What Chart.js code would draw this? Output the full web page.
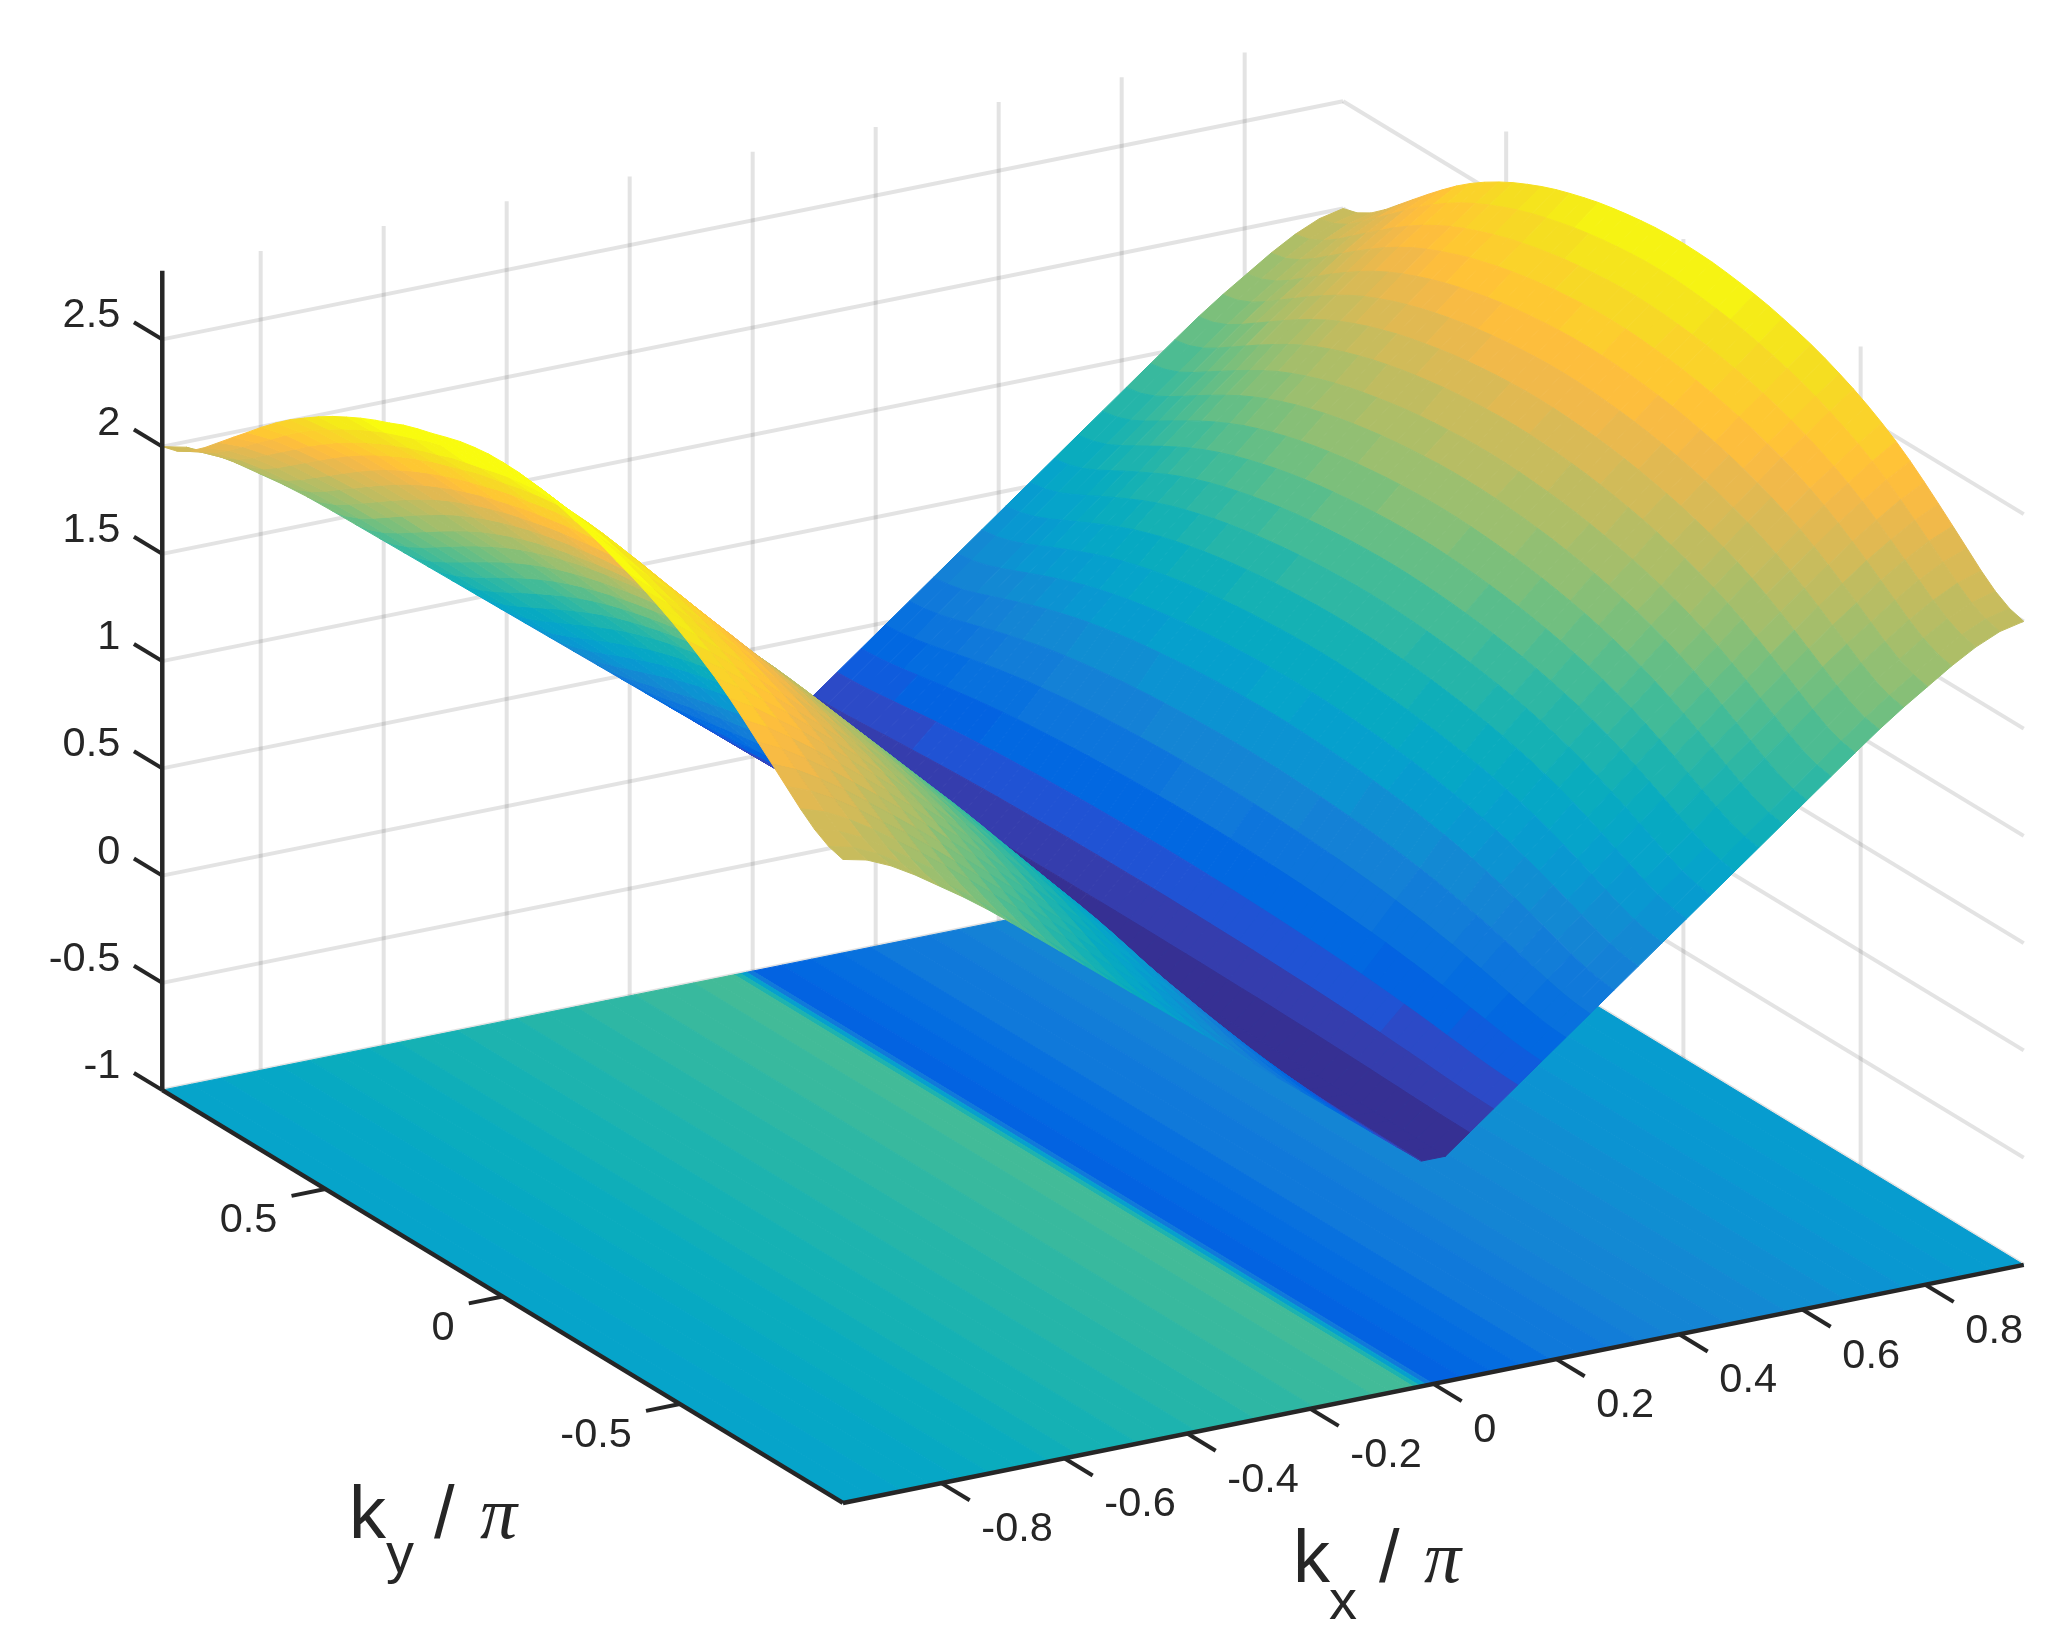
<!DOCTYPE html>
<html>
<head>
<meta charset="utf-8">
<title>kx ky surface</title>
<script src="https://cdn.jsdelivr.net/npm/chart.js@4"></script>
<style>
  html, body { margin: 0; padding: 0; background: #fff; }
  canvas { display: block; }
</style>
</head>
<body>
<canvas id="myChart" width="2050" height="1650"></canvas>
<script>
// tick labels
var kxTicks = [-0.8, -0.6, -0.4, -0.2, 0, 0.2, 0.4, 0.6, 0.8];
var kyTicks = [-0.5, 0, 0.5];
var zTicks = [-1, -0.5, 0, 0.5, 1, 1.5, 2, 2.5];

// surface, one quadrant (it is mirrored in kx and ky)
var kxHalf = [0.0196, 0.0588, 0.098, 0.1372, 0.1764, 0.2156, 0.2548, 0.294, 0.3332, 0.3724, 0.4116, 0.4508, 0.49,
    0.5292, 0.5684, 0.6076, 0.6468, 0.686, 0.7252, 0.7644, 0.8036, 0.8428, 0.882, 0.9212, 0.96];
var kyHalf = [0, 0.04, 0.08, 0.12, 0.16, 0.2, 0.24, 0.28, 0.32, 0.36, 0.4, 0.44, 0.48, 0.52, 0.56, 0.6, 0.64, 0.68,
    0.72, 0.76, 0.8, 0.84, 0.88, 0.92, 0.96];
var zHalf = [
    [.070,.070,.070,.070,.069,.069,.069,.068,.068,.067,.067,.066,.065,.064,.063,.062,.061,.059,.058,.056,.055,.053,.052,.051,.050],
    [.170,.170,.170,.169,.169,.169,.168,.167,.166,.166,.165,.163,.162,.161,.159,.157,.155,.153,.150,.148,.145,.143,.140,.139,.138],
    [.290,.290,.289,.289,.288,.287,.286,.285,.283,.281,.279,.277,.274,.271,.268,.264,.260,.255,.251,.246,.240,.235,.231,.228,.226],
    [.420,.420,.419,.418,.417,.415,.413,.411,.408,.405,.402,.398,.394,.389,.383,.377,.370,.363,.355,.346,.338,.329,.322,.317,.314],
    [.560,.560,.559,.557,.555,.553,.550,.547,.543,.538,.533,.527,.521,.514,.505,.496,.486,.475,.463,.450,.438,.425,.414,.406,.402],
    [.700,.700,.698,.696,.694,.691,.687,.682,.677,.671,.664,.657,.648,.638,.628,.615,.602,.587,.571,.554,.537,.520,.506,.495,.490],
    [.840,.839,.838,.835,.832,.828,.823,.818,.811,.804,.795,.786,.775,.763,.750,.734,.717,.699,.679,.658,.637,.616,.598,.585,.578],
    [.990,.989,.987,.984,.980,.975,.970,.962,.954,.945,.935,.923,.910,.895,.878,.859,.838,.815,.790,.765,.739,.713,.690,.674,.666],
    [1.110,1.109,1.107,1.104,1.099,1.094,1.088,1.080,1.071,1.061,1.049,1.036,1.022,1.005,.987,.967,.943,.918,.891,.863,.834,.806,.781,.763,.754],
    [1.230,1.229,1.227,1.223,1.218,1.213,1.206,1.197,1.187,1.176,1.164,1.150,1.134,1.116,1.096,1.074,1.048,1.020,.991,.960,.929,.898,.871,.852,.842],
    [1.350,1.349,1.347,1.342,1.337,1.331,1.324,1.314,1.304,1.292,1.279,1.263,1.246,1.227,1.205,1.181,1.153,1.123,1.091,1.058,1.025,.991,.962,.941,.930],
    [1.460,1.459,1.456,1.452,1.447,1.440,1.432,1.422,1.411,1.399,1.385,1.369,1.350,1.330,1.308,1.282,1.253,1.221,1.188,1.153,1.117,1.082,1.051,1.029,1.018],
    [1.570,1.569,1.566,1.562,1.556,1.549,1.541,1.531,1.519,1.506,1.491,1.474,1.455,1.434,1.410,1.383,1.353,1.319,1.284,1.248,1.210,1.173,1.141,1.118,1.106],
    [1.680,1.679,1.676,1.671,1.665,1.658,1.649,1.639,1.627,1.613,1.597,1.579,1.559,1.537,1.512,1.484,1.453,1.418,1.381,1.342,1.303,1.264,1.230,1.206,1.194],
    [1.790,1.789,1.786,1.781,1.775,1.767,1.758,1.747,1.734,1.720,1.704,1.685,1.664,1.641,1.615,1.585,1.552,1.516,1.477,1.437,1.396,1.356,1.320,1.295,1.282],
    [1.900,1.899,1.896,1.890,1.884,1.876,1.867,1.855,1.842,1.827,1.810,1.790,1.769,1.744,1.717,1.686,1.652,1.614,1.574,1.532,1.489,1.447,1.410,1.383,1.370],
    [2.000,1.999,1.996,1.990,1.984,1.976,1.966,1.954,1.940,1.925,1.908,1.888,1.866,1.841,1.813,1.782,1.746,1.707,1.666,1.623,1.580,1.537,1.499,1.472,1.458],
    [2.110,2.109,2.105,2.100,2.093,2.085,2.074,2.062,2.048,2.032,2.014,1.993,1.970,1.944,1.915,1.883,1.846,1.805,1.763,1.718,1.673,1.628,1.588,1.560,1.546],
    [2.210,2.209,2.205,2.200,2.193,2.184,2.174,2.161,2.146,2.130,2.112,2.090,2.067,2.040,2.011,1.977,1.939,1.898,1.854,1.808,1.762,1.716,1.675,1.646,1.632],
    [2.310,2.309,2.305,2.299,2.292,2.283,2.272,2.259,2.244,2.227,2.208,2.186,2.162,2.134,2.104,2.069,2.030,1.987,1.942,1.894,1.847,1.799,1.757,1.727,1.712],
    [2.410,2.409,2.405,2.399,2.391,2.382,2.371,2.357,2.341,2.324,2.304,2.281,2.255,2.227,2.195,2.159,2.118,2.073,2.026,1.976,1.926,1.876,1.833,1.802,1.786],
    [2.510,2.509,2.505,2.498,2.491,2.481,2.469,2.455,2.439,2.420,2.400,2.375,2.349,2.319,2.286,2.248,2.206,2.159,2.110,2.058,2.006,1.954,1.909,1.876,1.860],
    [2.600,2.599,2.595,2.588,2.580,2.570,2.557,2.543,2.526,2.507,2.485,2.460,2.433,2.402,2.367,2.328,2.284,2.236,2.184,2.131,2.077,2.023,1.976,1.942,1.925],
    [2.700,2.699,2.694,2.687,2.678,2.667,2.654,2.638,2.620,2.600,2.577,2.550,2.520,2.487,2.450,2.408,2.361,2.309,2.253,2.196,2.138,2.080,2.029,1.993,1.975],
    [2.800,2.798,2.794,2.786,2.776,2.764,2.750,2.732,2.712,2.690,2.664,2.634,2.602,2.565,2.524,2.478,2.426,2.368,2.307,2.244,2.180,2.116,2.060,2.020,2.000]
];
// the ridge on the kx < 0 side stands a little higher, rows for kxHalf index 18 to 24
var LEFT_FIRST_ROW = 18;
var zLeftOuter = [
    [2.228,2.227,2.222,2.216,2.207,2.196,2.185,2.171,2.154,2.137,2.118,2.095,2.071,2.043,2.013,1.979,1.940,1.898,1.854,1.808,1.762,1.716,1.675,1.646,1.632],
    [2.346,2.345,2.339,2.331,2.320,2.307,2.294,2.279,2.260,2.241,2.220,2.196,2.170,2.140,2.108,2.072,2.032,1.988,1.942,1.894,1.847,1.799,1.757,1.727,1.712],
    [2.464,2.463,2.456,2.447,2.433,2.418,2.404,2.387,2.365,2.345,2.322,2.296,2.267,2.236,2.201,2.164,2.121,2.075,2.026,1.976,1.926,1.876,1.833,1.802,1.786],
    [2.578,2.577,2.569,2.558,2.544,2.526,2.510,2.493,2.469,2.446,2.423,2.394,2.364,2.330,2.294,2.254,2.210,2.161,2.110,2.058,2.006,1.954,1.909,1.876,1.860],
    [2.677,2.676,2.667,2.656,2.640,2.621,2.604,2.586,2.560,2.537,2.511,2.481,2.450,2.415,2.376,2.335,2.288,2.239,2.184,2.131,2.077,2.023,1.976,1.942,1.925],
    [2.786,2.785,2.775,2.763,2.745,2.724,2.706,2.686,2.658,2.633,2.606,2.574,2.539,2.501,2.460,2.416,2.366,2.312,2.253,2.196,2.138,2.080,2.029,1.993,1.975],
    [2.890,2.888,2.879,2.866,2.846,2.824,2.805,2.782,2.752,2.725,2.694,2.659,2.622,2.580,2.534,2.486,2.431,2.371,2.307,2.244,2.180,2.116,2.060,2.020,2.000]
];

// colour of the flat sheet under the surface, by kx
var floorKx = [-0.96, -0.912, -0.864, -0.816, -0.768, -0.72, -0.672, -0.624, -0.576, -0.528, -0.48, -0.432, -0.384, -0.336,
    -0.288, -0.24, -0.192, -0.144, -0.096, -0.068, -0.04, -0.03, -0.02, -0.01, 0, 0.048, 0.096, 0.144, 0.192, 0.24, 0.288,
    0.336, 0.384, 0.432, 0.48, 0.528, 0.576, 0.624, 0.672, 0.72, 0.768, 0.816, 0.864, 0.912, 0.96];
var floorC = [1.00, 1.02, 1.04, 1.07, 1.10, 1.13, 1.16, 1.18, 1.21, 1.23, 1.25, 1.27, 1.30, 1.32,
    1.34, 1.36, 1.38, 1.40, 1.42, 1.44, 1.46, 1.25, 0.95, 0.60, 0.36, 0.39, 0.44, 0.50, 0.56, 0.60, 0.63,
    0.66, 0.69, 0.72, 0.74, 0.76, 0.78, 0.80, 0.82, 0.84, 0.86, 0.88, 0.91, 0.93, 0.96];

var parula = [
    [.2081,.1663,.5292],[.2116,.1898,.5777],[.2123,.2138,.6270],[.2081,.2386,.6771],[.1959,.2645,.7279],[.1707,.2919,.7792],
    [.1253,.3242,.8303],[.0591,.3598,.8683],[.0117,.3875,.8820],[.0060,.4086,.8828],[.0165,.4266,.8786],[.0329,.4430,.8720],
    [.0498,.4586,.8641],[.0629,.4737,.8554],[.0723,.4887,.8467],[.0779,.5040,.8384],[.0793,.5200,.8312],[.0749,.5375,.8263],
    [.0641,.5570,.8240],[.0488,.5772,.8228],[.0343,.5966,.8199],[.0265,.6137,.8135],[.0239,.6287,.8038],[.0231,.6418,.7913],
    [.0228,.6535,.7768],[.0267,.6642,.7607],[.0384,.6743,.7436],[.0590,.6838,.7254],[.0843,.6928,.7062],[.1133,.7015,.6859],
    [.1453,.7098,.6646],[.1807,.7176,.6424],[.2178,.7250,.6193],[.2586,.7317,.5954],[.3022,.7376,.5712],[.3482,.7424,.5473],
    [.3953,.7459,.5244],[.4420,.7481,.5033],[.4871,.7491,.4840],[.5300,.7491,.4661],[.5709,.7485,.4494],[.6099,.7473,.4337],
    [.6473,.7456,.4188],[.6834,.7435,.4044],[.7184,.7411,.3905],[.7525,.7384,.3768],[.7858,.7356,.3633],[.8185,.7327,.3498],
    [.8507,.7299,.3360],[.8824,.7274,.3217],[.9139,.7258,.3063],[.9450,.7261,.2886],[.9739,.7314,.2666],[.9938,.7455,.2403],
    [.9990,.7653,.2164],[.9955,.7861,.1967],[.9880,.8066,.1794],[.9789,.8271,.1633],[.9697,.8481,.1475],[.9626,.8705,.1309],
    [.9589,.8949,.1132],[.9598,.9218,.0948],[.9661,.9514,.0755],[.9763,.9831,.0538]
];
var cMax = 2.75;
var K_LIM = 0.96;
var Z_TOP = 2.82;
var AXIS_COLOR = '#262626';
var GRID_COLOR = 'rgba(38,38,38,0.13)';

function colorFor(c) {
    var n = Math.floor(c / cMax * 64);
    n = Math.max(0, Math.min(63, n));
    var p = parula[n];
    return 'rgb(' + Math.round(p[0] * 255) + ',' + Math.round(p[1] * 255) + ',' + Math.round(p[2] * 255) + ')';
}

// orthographic view of the box, gives plane coordinates for the chart's x and y scales
function project(kx, ky, z) {
    return {
        x: 1093 + 615 * kx - 354.5 * ky,
        y: 1177.5 - 124 * kx - 215 * ky - 214.5 * (z + 1)
    };
}

function polygon(points, color) {
    return {
        data: points.concat([points[0]]),
        showLine: true,
        fill: 'shape',
        backgroundColor: color,
        borderColor: color,
        borderWidth: 1,
        pointRadius: 0,
        tension: 0,
        clip: false
    };
}

function line(a, b, color, width) {
    return {
        data: [a, b],
        showLine: true,
        fill: false,
        borderColor: color,
        borderWidth: width,
        pointRadius: 0,
        borderCapStyle: 'butt',
        clip: false
    };
}

function buildDatasets() {
    var sets = [];
    // grid on the two back walls
    kxTicks.forEach(function (k) {
        sets.push(line(project(k, K_LIM, -1), project(k, K_LIM, Z_TOP), GRID_COLOR, 4));
    });
    kyTicks.forEach(function (k) {
        sets.push(line(project(K_LIM, k, -1), project(K_LIM, k, Z_TOP), GRID_COLOR, 4));
    });
    zTicks.forEach(function (z) {
        sets.push(line(project(-K_LIM, K_LIM, z), project(K_LIM, K_LIM, z), GRID_COLOR, 4));
        sets.push(line(project(K_LIM, K_LIM, z), project(K_LIM, -K_LIM, z), GRID_COLOR, 4));
    });

    // flat sheet
    for (var f = floorKx.length - 2; f >= 0; f--) {
        sets.push(polygon([
            project(floorKx[f], -K_LIM, -1), project(floorKx[f + 1], -K_LIM, -1),
            project(floorKx[f + 1], K_LIM, -1), project(floorKx[f], K_LIM, -1)
        ], colorFor(floorC[f])));
    }

    // surface, far cells first
    var kxAll = kxHalf.slice().reverse().map(function (v) { return -v; }).concat(kxHalf);
    var kyAll = kyHalf.slice(1).reverse().map(function (v) { return -v; }).concat(kyHalf);
    function zAt(i, j) {
        var left = i < kxHalf.length;
        var a = left ? kxHalf.length - 1 - i : i - kxHalf.length;
        var b = Math.abs(j - (kyHalf.length - 1));
        if (left && a >= LEFT_FIRST_ROW) {
            return zLeftOuter[a - LEFT_FIRST_ROW][b];
        }
        return zHalf[a][b];
    }
    for (var i = kxAll.length - 2; i >= 0; i--) {
        for (var j = kyAll.length - 2; j >= 0; j--) {
            sets.push(polygon([
                project(kxAll[i], kyAll[j], zAt(i, j)),
                project(kxAll[i + 1], kyAll[j], zAt(i + 1, j)),
                project(kxAll[i + 1], kyAll[j + 1], zAt(i + 1, j + 1)),
                project(kxAll[i], kyAll[j + 1], zAt(i, j + 1))
            ], colorFor(zAt(i, j))));
        }
    }

    // axes and tick marks
    sets.push(line(project(-K_LIM, -K_LIM, -1), project(K_LIM, -K_LIM, -1), AXIS_COLOR, 4.5));
    sets.push(line(project(-K_LIM, -K_LIM, -1), project(-K_LIM, K_LIM, -1), AXIS_COLOR, 4.5));
    sets.push(line(project(-K_LIM, K_LIM, -1), project(-K_LIM, K_LIM, Z_TOP), AXIS_COLOR, 4.5));
    kxTicks.forEach(function (k) {
        sets.push(line(project(k, -K_LIM, -1), project(k, -K_LIM - 0.08, -1), AXIS_COLOR, 4));
    });
    kyTicks.forEach(function (k) {
        sets.push(line(project(-K_LIM, k, -1), project(-K_LIM - 0.055, k, -1), AXIS_COLOR, 4));
    });
    zTicks.forEach(function (z) {
        sets.push(line(project(-K_LIM, K_LIM, z), project(-K_LIM, K_LIM + 0.08, z), AXIS_COLOR, 4));
    });

    // chart.js paints the first dataset last
    return sets.reverse();
}

var labelPlugin = {
    id: 'boxLabels',
    afterDraw: function (chart) {
        var ctx = chart.ctx;
        var sx = chart.scales.x, sy = chart.scales.y;
        function put(text, p, dx, dy, align) {
            ctx.textAlign = align;
            ctx.fillText(text, sx.getPixelForValue(p.x) + dx, sy.getPixelForValue(p.y) + dy);
        }
        ctx.save();
        ctx.fillStyle = AXIS_COLOR;
        ctx.textBaseline = 'alphabetic';
        ctx.font = '41.5px "Liberation Sans"';
        kxTicks.forEach(function (k) {
            put(String(k), project(k, -K_LIM, -1), 40, 58, 'left');
        });
        kyTicks.forEach(function (k) {
            put(String(k), project(-K_LIM, k, -1), -48, 43, 'right');
        });
        zTicks.forEach(function (z) {
            put(String(z), project(-K_LIM, K_LIM, z), -42, -12, 'right');
        });

        // axis titles
        ctx.textAlign = 'left';
        ctx.font = '74px "Liberation Sans"';
        ctx.fillText('k', 349, 1538);
        ctx.fillText('/', 434, 1538);
        ctx.fillText('k', 1293, 1582);
        ctx.fillText('/', 1379, 1582);
        ctx.font = '56px "Liberation Sans"';
        ctx.fillText('y', 386, 1572);
        ctx.fillText('x', 1329, 1619);
        ctx.font = 'italic 74px "Liberation Serif"';
        ctx.fillText('\u03c0', 480, 1538);
        ctx.fillText('\u03c0', 1424, 1582);
        ctx.restore();
    }
};

function createChart() {
    var ctx = document.getElementById('myChart').getContext('2d');
    new Chart(ctx, {
        type: 'scatter',
        data: { datasets: buildDatasets() },
        options: {
            responsive: false,
            animation: false,
            events: [],
            layout: { padding: 0 },
            plugins: { legend: { display: false }, tooltip: { enabled: false } },
            scales: {
                x: { type: 'linear', display: false, min: 0, max: 2050 },
                y: { type: 'linear', display: false, min: 0, max: 1650, reverse: true }
            }
        },
        plugins: [labelPlugin]
    });
}
createChart();
</script>
</body>
</html>
